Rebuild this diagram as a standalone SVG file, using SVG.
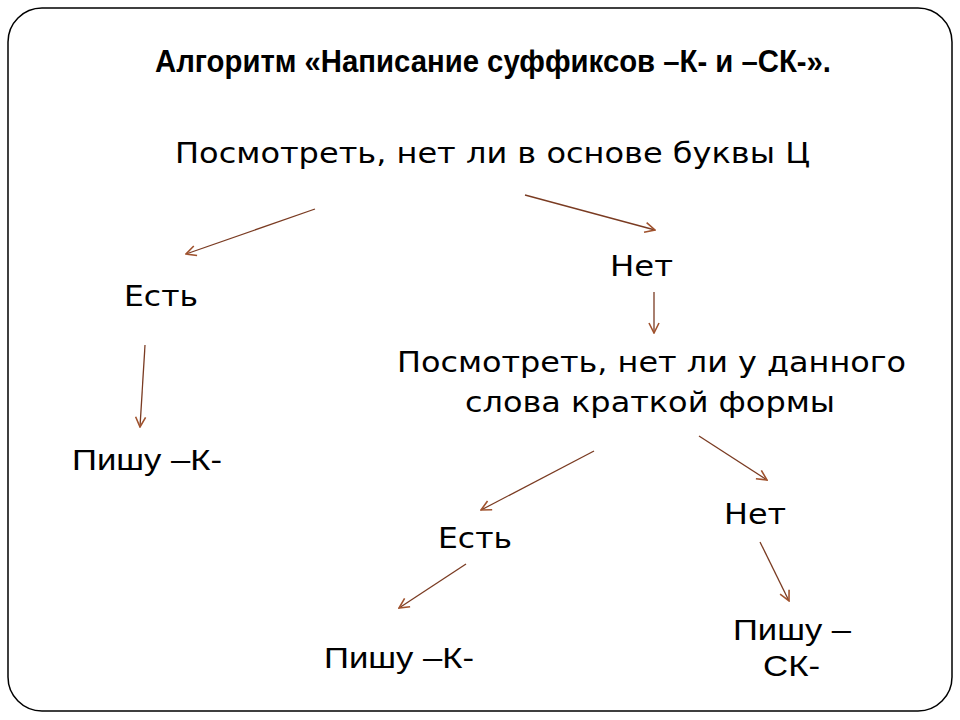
<svg xmlns="http://www.w3.org/2000/svg" width="960" height="720" viewBox="0 0 960 720">
<style>
.t{font-family:"DejaVu Sans","Noto Sans",sans-serif;font-size:29px;fill:#000}
.a{font-family:"Liberation Sans",Arial,sans-serif;font-size:29px;fill:#000}
.c line{stroke:#7a3b22;stroke-width:1.3;marker-end:url(#ah)}
</style>
<defs>
<marker id="ah" viewBox="0 0 12 12" refX="11" refY="6" markerWidth="12" markerHeight="12" markerUnits="userSpaceOnUse" orient="auto">
<path d="M1,1 L11,6 L1,11" fill="none" stroke="#a0522d" stroke-width="1.6"/>
</marker>
</defs>
<rect width="960" height="720" fill="#fff"/>
<rect x="8" y="8" width="944" height="703" rx="34" ry="34" fill="none" stroke="#000" stroke-width="1.5"/>
<g id="title"><text x="155" y="72" font-family="'Liberation Sans Narrow','Liberation Sans',sans-serif" font-size="31" font-weight="bold" textLength="676" lengthAdjust="spacingAndGlyphs">Алгоритм «Написание суффиксов –К- и –СК-».</text></g>
<g id="n1"><text class="t" x="175" y="163" textLength="635" lengthAdjust="spacingAndGlyphs">Посмотреть, нет ли в основе буквы Ц</text></g>
<g id="n2"><text class="t" x="124" y="306" textLength="74" lengthAdjust="spacingAndGlyphs">Есть</text></g>
<g id="n3"><text class="t" x="610" y="276" textLength="63" lengthAdjust="spacingAndGlyphs">Нет</text></g>
<g id="n4"><text class="a" x="72" y="470" textLength="150" lengthAdjust="spacingAndGlyphs">Пишу –К-</text></g>
<g id="n5"><text class="t" x="397" y="372" textLength="509" lengthAdjust="spacingAndGlyphs">Посмотреть, нет ли у данного</text><text class="t" x="465" y="412" textLength="370" lengthAdjust="spacingAndGlyphs">слова краткой формы</text></g>
<g id="n6"><text class="t" x="438" y="548" textLength="74" lengthAdjust="spacingAndGlyphs">Есть</text></g>
<g id="n7"><text class="t" x="724" y="524" textLength="62" lengthAdjust="spacingAndGlyphs">Нет</text></g>
<g id="n8"><text class="a" x="324" y="668" textLength="150" lengthAdjust="spacingAndGlyphs">Пишу –К-</text></g>
<g id="n9"><text class="a" x="733" y="640" textLength="118" lengthAdjust="spacingAndGlyphs">Пишу –</text><text class="a" x="763" y="676" textLength="57" lengthAdjust="spacingAndGlyphs">СК-</text></g>
<g id="connectors" class="c">
<line x1="315" y1="209" x2="186" y2="254"/>
<line x1="525" y1="195" x2="655" y2="230"/>
<line x1="654" y1="292" x2="654" y2="333"/>
<line x1="145" y1="345" x2="140" y2="427"/>
<line x1="594" y1="451" x2="481" y2="510"/>
<line x1="699" y1="436" x2="767" y2="480"/>
<line x1="466" y1="564" x2="399" y2="608"/>
<line x1="760" y1="542" x2="789" y2="601"/>
</g>
</svg>
